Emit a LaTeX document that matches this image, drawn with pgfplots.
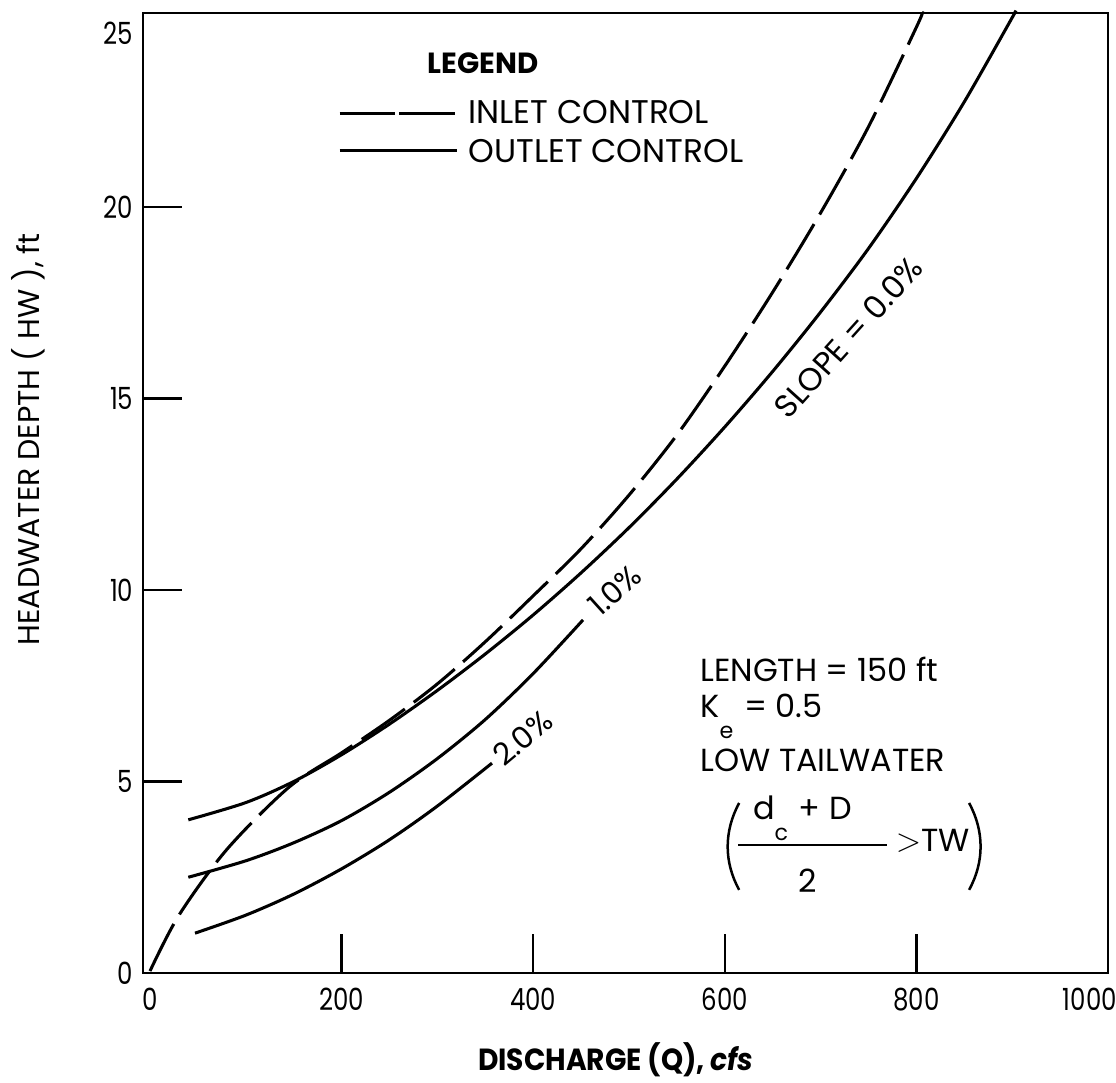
\documentclass[border=0pt]{standalone}
\usepackage{pgfplots}
\pgfplotsset{compat=1.18}
\usepackage{fontspec}
\setmainfont{Poppins}
\newfontfamily\numfont[FakeStretch=0.8]{Poppins}
\newfontfamily\narrowfont[FakeStretch=0.92]{Poppins}

% Culvert performance curves: headwater depth against discharge
\begin{document}
\begin{tikzpicture}
\useasboundingbox (-51.48pt,-39.6pt) rectangle (350.28pt,350.28pt);
\begin{axis}[
  scale only axis, width=347.4pt, height=345.6pt,
  xmin=-7.3, xmax=1000, ymin=0, ymax=25.07,
  clip=false,
  axis line style={line width=0.9pt},
  tick align=inside, major tick length=14pt,
  tick style={line width=0.8pt, black},
  xtick pos=bottom, ytick pos=left,
  xtick={200,400,600,800}, ytick={5,10,15,20},
  extra x ticks={0,981}, extra x tick labels={0,1000},
  extra x tick style={tick style={draw=none}},
  extra y ticks={0,24.55}, extra y tick labels={0,25},
  extra y tick style={tick style={draw=none}},
  /pgf/number format/assume math mode=true,
  ticklabel style={font=\numfont\fontsize{11}{13}\selectfont},
  xticklabel style={yshift=-2pt},
]
% outlet control, slope 0.0 %
\addplot[black, line width=1.1pt, smooth] coordinates {
 (40,4.0) (100,4.45) (150,5.0) (200,5.7) (250,6.5) (300,7.38) (350,8.33)
 (400,9.35) (450,10.45) (500,11.63) (550,12.9) (600,14.26) (650,15.71)
 (700,17.26) (750,18.92) (800,20.75) (850,22.75) (900,24.95) (902.5,25.07)};
% outlet control, slope 1.0 %
\addplot[black, line width=1.1pt, smooth] coordinates {
 (40,2.5) (100,2.93) (150,3.4) (200,3.98) (250,4.72) (300,5.6) (350,6.62)
 (400,7.82) (452,9.22)};
% outlet control, slope 2.0 %
\addplot[black, line width=1.1pt, smooth] coordinates {
 (47,1.04) (100,1.51) (150,2.06) (200,2.72) (250,3.48) (300,4.36) (357,5.48)};
% inlet control
\addplot[black, line width=1.1pt, smooth, dash pattern=on 19pt off 4pt] coordinates {
 (0,0.05) (30,1.5) (80,3.22) (145,4.85) (200,5.75) (250,6.6) (300,7.55)
 (350,8.65) (400,9.85) (450,11.08) (500,12.48) (550,14.05) (600,15.85)
 (650,17.78) (700,19.85) (750,22.1) (800,24.7) (806,25.07)};

% slope labels
\node[rotate=48, font=\fontsize{11.5}{13}\selectfont] at (axis cs:729,16.6) {SLOPE = 0.0\%};
\node[rotate=42, font=\fontsize{11}{13}\selectfont] at (axis cs:485,10.0) {1.0\%};
\node[rotate=40, font=\fontsize{11}{13}\selectfont] at (axis cs:389,6.14) {2.0\%};

% legend
\node[font=\bfseries\fontsize{10.5}{12}\selectfont] at (axis cs:347.6,23.76) {LEGEND};
\draw[black, line width=1.1pt, dash pattern=on 20pt off 1.5pt] (axis cs:198,22.45) -- (axis cs:320,22.45);
\draw[black, line width=1.1pt] (axis cs:198,21.49) -- (axis cs:320,21.49);
\node[anchor=west, inner sep=0pt, font=\fontsize{11.8}{13}\selectfont] at (axis cs:332,22.49) {INLET CONTROL};
\node[anchor=west, inner sep=0pt, font=\fontsize{11.8}{13}\selectfont] at (axis cs:332,21.46) {OUTLET CONTROL};

% culvert conditions
\begin{scope}[every node/.style={inner sep=0pt, font=\fontsize{11.5}{13}\selectfont}]
\node[anchor=base west] at (axis cs:574,7.6) {LENGTH = 150 ft};
\node[anchor=base west] at (axis cs:574,6.66) {K\raisebox{-7.5pt}{\footnotesize e}\,\,= 0.5};
\node[anchor=base west] at (axis cs:574,5.27) {LOW TAILWATER};
\node[anchor=base] at (axis cs:681,4.0) {d\raisebox{-7.5pt}{\footnotesize c}\,\,+ D};
\node[anchor=base] at (axis cs:686,2.11) {2};
\node[anchor=base west] at (axis cs:778,3.16) {$>$TW};
\end{scope}
\draw[black, line width=0.6pt] (axis cs:614,3.34) -- (axis cs:769,3.34);
\draw[black, line width=0.9pt] (axis cs:615,4.44) .. controls (axis cs:599,3.7) and (axis cs:599,2.9) .. (axis cs:615,2.17);
\draw[black, line width=0.9pt] (axis cs:855,4.44) .. controls (axis cs:871,3.7) and (axis cs:871,2.9) .. (axis cs:855,2.17);

% axis titles
\node[rotate=90, font=\fontsize{10.8}{12}\selectfont] at (rel axis cs:-0.119,0.556) {HEADWATER DEPTH ( HW ), ft};
\node[font=\narrowfont\bfseries\fontsize{11}{13}\selectfont] at (rel axis cs:0.49,-0.0906) {DISCHARGE (Q), \textit{cfs}};
\end{axis}
\end{tikzpicture}
\end{document}
